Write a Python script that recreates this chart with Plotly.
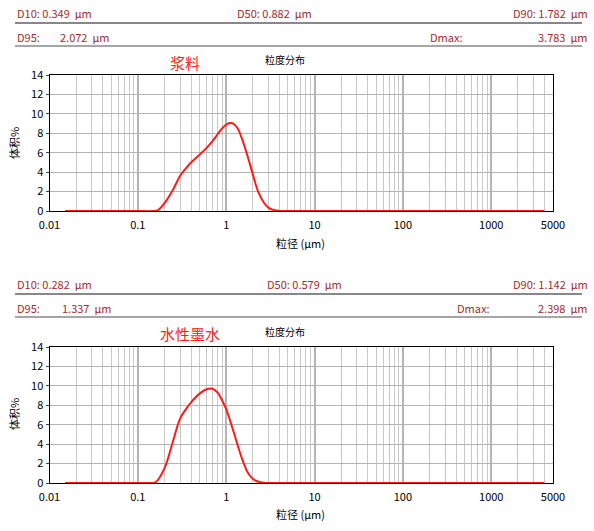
import plotly.graph_objects as go
import numpy as np

x1 = [0.015, 0.05, 0.1, 0.15, 0.17, 0.2, 0.25, 0.3, 0.35, 0.4, 0.5, 0.6, 0.7, 0.8, 0.9, 1.0, 1.1, 1.2, 1.35, 1.5, 1.7, 2.0, 2.3, 2.7, 3.0, 3.5, 4.0, 5.0, 10, 100, 1000, 4000]
y1 = [0, 0, 0, 0, 0.1, 0.8, 2.2, 3.6, 4.4, 5.0, 5.8, 6.5, 7.2, 7.9, 8.5, 8.9, 9.05, 9.0, 8.5, 7.5, 6.0, 3.8, 2.0, 0.8, 0.35, 0.08, 0.01, 0, 0, 0, 0, 0]
x2 = [0.015, 0.05, 0.1, 0.14, 0.16, 0.2, 0.25, 0.3, 0.35, 0.4, 0.5, 0.6, 0.7, 0.8, 0.9, 1.0, 1.2, 1.4, 1.6, 1.8, 2.1, 2.5, 3.0, 10, 100, 1000, 4000]
y2 = [0, 0, 0, 0, 0.1, 1.5, 4.3, 6.6, 7.6, 8.3, 9.2, 9.65, 9.7, 9.3, 8.5, 7.6, 5.4, 3.4, 1.9, 0.9, 0.3, 0.05, 0, 0, 0, 0, 0]
xticks = [0.01, 0.1, 1, 10, 100, 1000, 5000]
xticklabels = ["0.01", "0.1", "1", "10", "100", "1000", "5000"]
rows1 = [("D10: 0.349  µm", "D50: 0.882  µm", "D90: 1.782  µm"), ("D95:", "2.072  µm", "Dmax:", "3.783  µm")]
rows2 = [("D10: 0.282  µm", "D50: 0.579  µm", "D90: 1.142  µm"), ("D95:", "1.337  µm", "Dmax:", "2.398  µm")]
names = ["浆料", "水性墨水"]

W = 594.0
H = 531.0
def py(p): return 1 - p / H
def px(p): return p / W

fig = go.Figure()
fig.add_trace(go.Scatter(x=x1, y=y1, mode="lines", line=dict(color="#ff1a1a", width=2, shape="spline"), xaxis="x", yaxis="y", showlegend=False))
fig.add_trace(go.Scatter(x=x2, y=y2, mode="lines", line=dict(color="#ff1a1a", width=2, shape="spline"), xaxis="x2", yaxis="y2", showlegend=False))

minor = dict(showgrid=True, gridcolor="#c8c8c8", gridwidth=1, dtick="D1", ticks="")
xa = dict(type="log", range=[-2, np.log10(5000)], tickvals=xticks, ticktext=xticklabels, automargin=False,
          showgrid=True, gridcolor="#b4b4b4", gridwidth=1.5, minor=minor, showline=True, linecolor="black", linewidth=1,
          mirror=True, ticks="", ticklabelstandoff=4, tickfont=dict(size=11, color="black"), zeroline=False)
ya = dict(range=[0, 14], dtick=2, showgrid=True, gridcolor="#b4b4b4", showline=True, linecolor="black", mirror=True, automargin=False,
          ticks="outside", ticklen=3, tickfont=dict(size=11, color="black"), zeroline=False)
fig.update_layout(
    width=W, height=H, margin=dict(l=0, r=0, t=0, b=0), plot_bgcolor="white", paper_bgcolor="white",
    font=dict(family="Noto Sans CJK SC, Noto Sans", size=11, color="black"),
    xaxis=dict(xa, domain=[px(49.5), px(553)], anchor="y"),
    yaxis=dict(ya, domain=[py(211), py(75)], anchor="x"),
    xaxis2=dict(xa, domain=[px(49.5), px(553)], anchor="y2"),
    yaxis2=dict(ya, domain=[py(483), py(347)], anchor="x2"),
)
red = "#a52a2a"
def txt(x, y, s, anchor="left", color=red, size=11, angle=0):
    fig.add_annotation(x=px(x), y=py(y), xref="paper", yref="paper", text=s, showarrow=False,
                       xanchor=anchor, yanchor="middle", font=dict(color=color, size=size), textangle=angle)
def hline(y, w=2):
    fig.add_shape(type="line", xref="paper", yref="paper", x0=px(15), x1=px(582), y0=py(y), y1=py(y), line=dict(color="#888", width=w))

for base, rows, d50x, d95v, dmx, name, namex in [(0, rows1, 235, 58, 428, names[0], 185), (271, rows2, 265, 60, 455, names[1], 190)]:
    txt(15, 13 + base, rows[0][0]); txt(d50x, 13 + base, rows[0][1]); txt(590, 13 + base, rows[0][2], "right")
    hline(23 + base)
    txt(15, 37 + base, rows[1][0]); txt(d95v, 37 + base, rows[1][1]); txt(dmx, 37 + base, rows[1][2]); txt(590, 37 + base, rows[1][3], "right")
    hline(46 + base, 1.5)
    txt(285, 60 + base, "粒度分布", "center", "black", 10)
    txt(namex, 62 + base, name, "center", "#ff2020", 15)
    txt(300, 243 + base, "粒径 (µm)", "center", "black", 11)
    txt(14, 143 + base, "体积%", "center", "black", 11, -90)

fig.write_html("out.html", config={"displayModeBar": False}, post_script="document.body.style.margin='0';")
